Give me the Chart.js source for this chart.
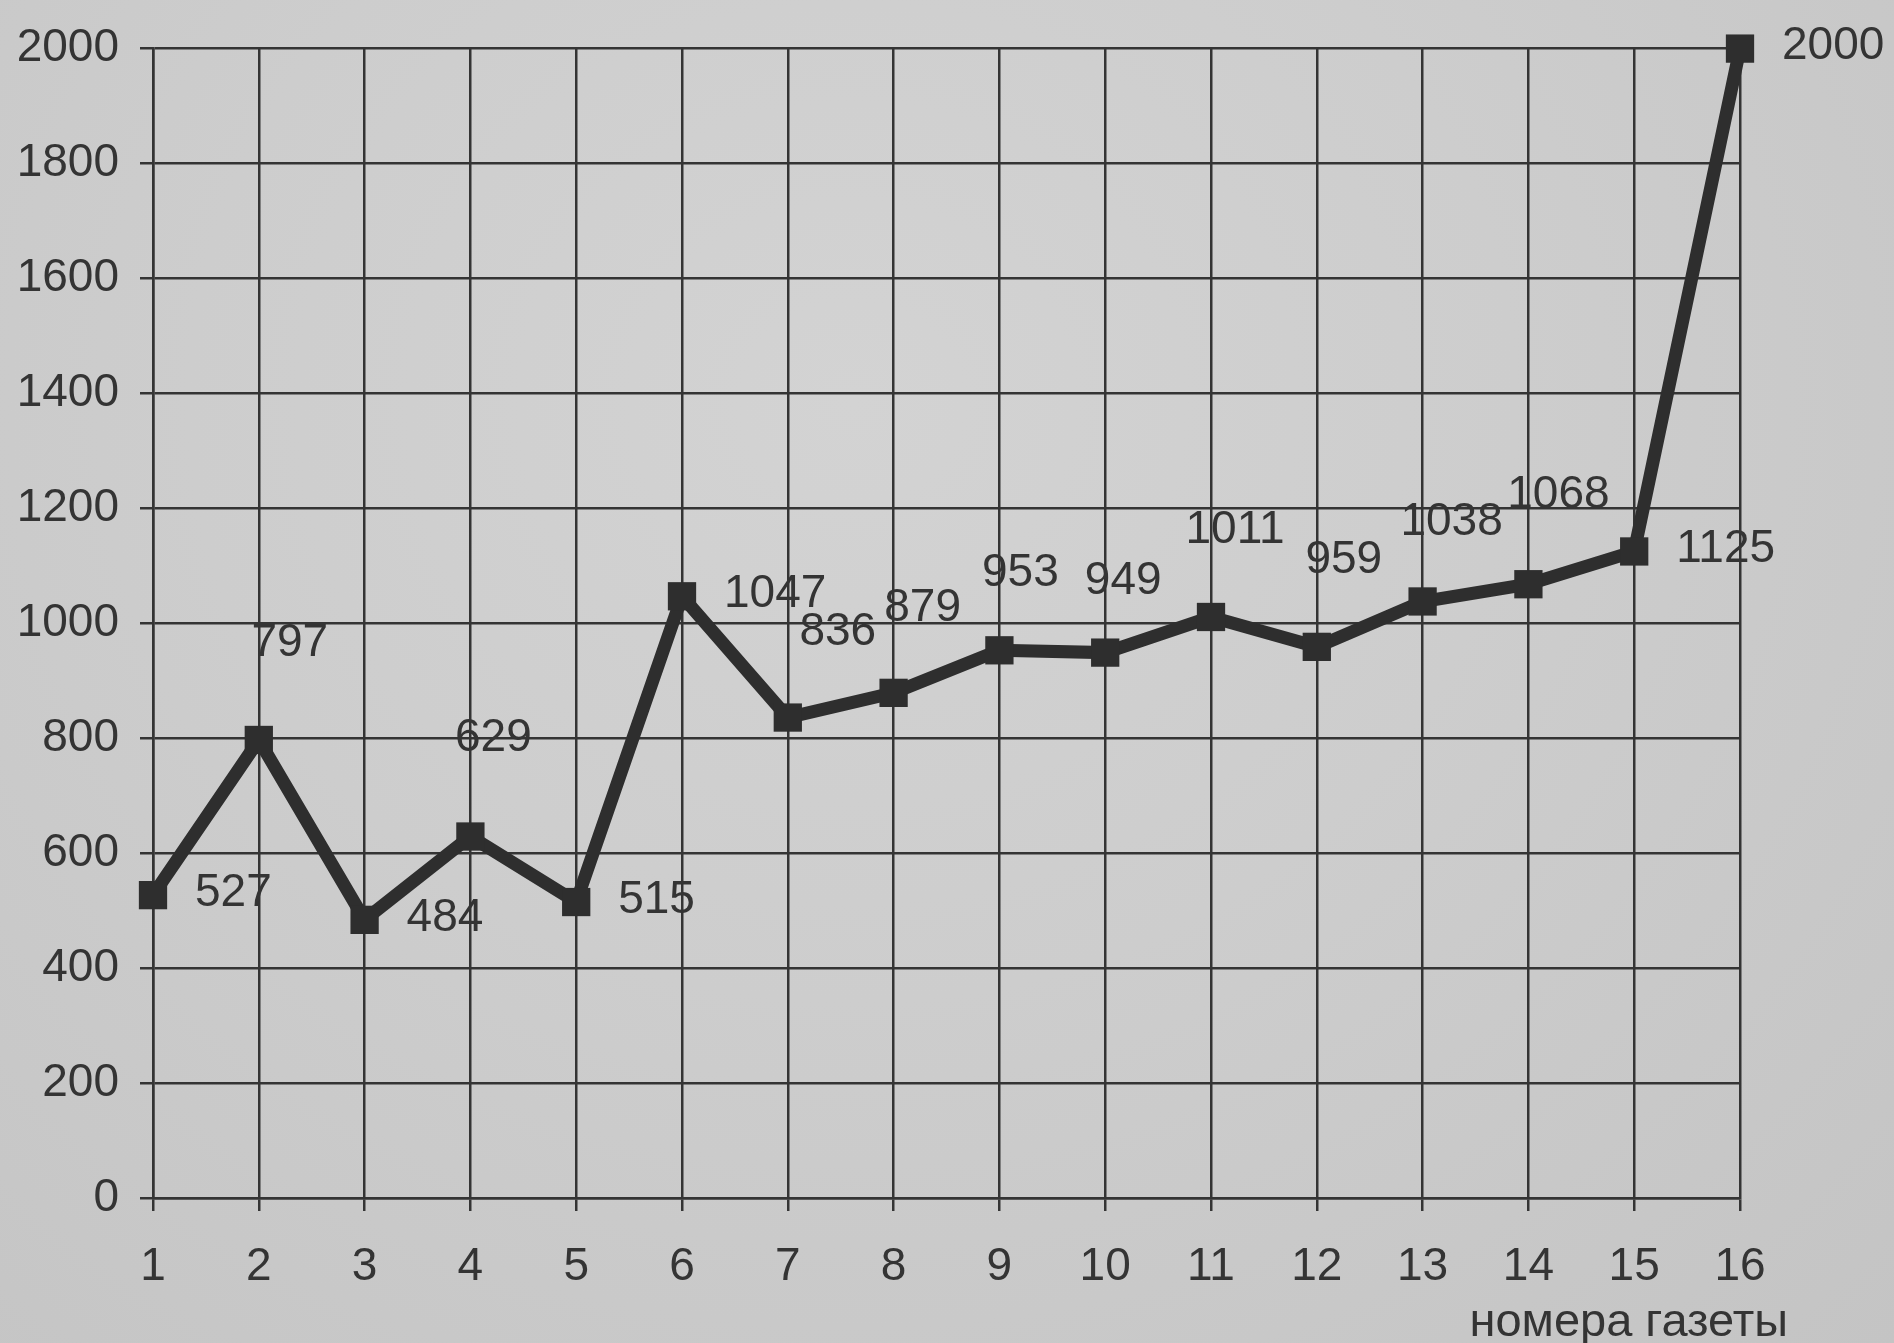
<!DOCTYPE html>
<html>
<head>
<meta charset="utf-8">
<script src="https://cdn.jsdelivr.net/npm/chart.js@4.4.1/dist/chart.umd.min.js"></script>
<style>
  html, body { margin: 0; padding: 0; background: #cbcbcb; }
  #wrap { width: 1894px; height: 1343px; position: relative;
          background: radial-gradient(ellipse at 45% 30%, #d3d3d3 0%, #cdcdcd 45%, #c4c4c4 100%); }
  canvas { display: block; }
</style>
</head>
<body>
<div id="wrap"><canvas id="c" width="1894" height="1343"></canvas></div>
<script>
// ---- data ----
const categories = ['1','2','3','4','5','6','7','8','9','10','11','12','13','14','15','16'];
const values = [527, 797, 484, 629, 515, 1047, 836, 879, 953, 949, 1011, 959, 1038, 1068, 1125, 2000];
const yMin = 0;
const yMax = 2000;
const yStep = 200;
const xTitle = 'номера газеты';

// label placement relative to each point: 'r' = to the right, 'a' = above
const labelPlace = ['r','a','r','a','r','r','a','a','a','a','a','a','a','a','r','r'];
const labelShift = [[0,0],[31,-97],[0,0],[23,-98],[0,0],[0,0],[50,-85],[29,-85],[21,-77],[18,-71],[24,-87],[27,-87],[29,-79],[30,-89],[0,0],[0,0]];

const INK = '#343434';
const FONT = '"Liberation Sans", Arial, sans-serif';

const labelPlugin = {
  id: 'pointLabels',
  afterDatasetsDraw(chart) {
    const ctx = chart.ctx;
    const meta = chart.getDatasetMeta(0);
    ctx.save();
    ctx.fillStyle = INK;
    ctx.font = '46px ' + FONT;
    ctx.textBaseline = 'middle';
    meta.data.forEach((pt, i) => {
      const txt = String(values[i]);
      if (labelPlace[i] === 'r') {
        ctx.textAlign = 'left';
        ctx.fillText(txt, pt.x + 42, pt.y - 2);
      } else {
        ctx.textAlign = 'center';
        ctx.fillText(txt, pt.x + labelShift[i][0], pt.y + labelShift[i][1]);
      }
    });
    // x-axis title, bottom right
    const a = chart.chartArea;
    ctx.font = '47px ' + FONT;
    ctx.textAlign = 'right';
    ctx.fillText(xTitle, a.right + 48, a.bottom + 125);
    ctx.restore();
  }
};

new Chart(document.getElementById('c'), {
  type: 'line',
  data: {
    labels: categories,
    datasets: [{
      data: values,
      borderColor: '#2e2e2e',
      backgroundColor: '#2e2e2e',
      borderWidth: 13,
      pointStyle: 'rect',
      pointRadius: 20,
      pointHoverRadius: 20,
      pointBorderWidth: 0,
      tension: 0,
      clip: false
    }]
  },
  options: {
    responsive: false,
    animation: false,
    events: [],
    layout: { padding: { left: 0, right: 154, top: 46, bottom: 0 } },
    plugins: { legend: { display: false }, tooltip: { enabled: false } },
    scales: {
      x: {
        offset: false,
        afterFit: (s) => { s.height = 145; },
        grid: { color: INK, lineWidth: 2.5, tickLength: 13, drawTicks: true },
        border: { color: INK, width: 2.5 },
        ticks: { color: INK, font: { family: FONT, size: 46 }, padding: 29, maxRotation: 0, autoSkip: false }
      },
      y: {
        min: yMin, max: yMax,
        afterFit: (s) => { s.width = 153; },
        grid: { color: INK, lineWidth: 2.5, tickLength: 13, drawTicks: true },
        border: { color: INK, width: 2.5 },
        ticks: { color: INK, font: { family: FONT, size: 46 }, padding: 21, stepSize: yStep,
                 callback: (v) => String(v) }
      }
    }
  },
  plugins: [labelPlugin]
});
</script>
</body>
</html>
